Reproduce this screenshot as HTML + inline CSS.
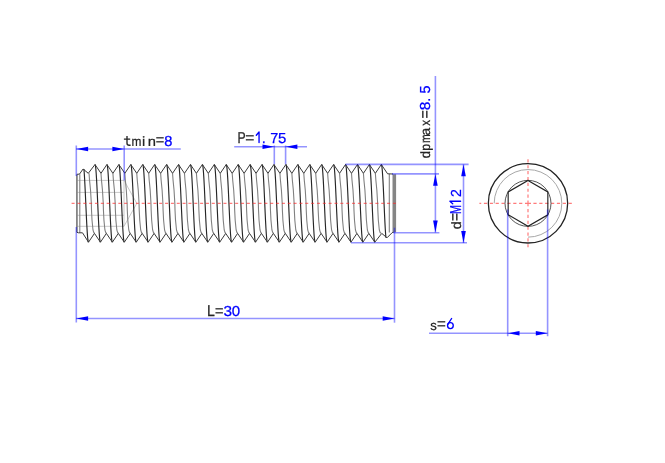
<!DOCTYPE html>
<html><head><meta charset="utf-8"><style>
html,body{margin:0;padding:0;background:#fff;width:665px;height:463px;overflow:hidden}
svg{display:block}
</style></head><body>
<svg width="665" height="463" viewBox="0 0 665 463" style="will-change:transform">
<rect width="665" height="463" fill="#fff"/>
<g fill="none" stroke="#c8c8c8" stroke-width="1">
<path d="M77 180.4 H124"/>
<path d="M77 192.4 H124"/>
<path d="M77 215.3 H124"/>
<path d="M77 226.3 H124"/>
<path d="M124 180.4 V226.3 M124 180.4 L136.8 203.35 L124 226.3"/>
</g>
<g fill="none" stroke="#808080" stroke-width="1.1">
<path d="M89.03 173.3 L89.53 180 L90.52 190 L91.31 203 L91.5 210 L92 220 L92.98 230 L93.77 232.4 L94.47 233.4 M100.97 173.3 L101.46 180 L102.45 190 L103.24 203 L103.43 210 L103.93 220 L104.91 230 L105.7 232.4 L106.4 233.4 M112.9 173.3 L113.39 180 L114.38 190 L115.17 203 L115.36 210 L115.86 220 L116.84 230 L117.63 232.4 L118.33 233.4 M124.83 173.3 L125.32 180 L126.31 190 L127.1 203 L127.29 210 L127.79 220 L128.77 230 L129.56 232.4 L130.25 233.4 M136.75 173.3 L137.25 180 L138.24 190 L139.03 203 L139.22 210 L139.72 220 L140.7 230 L141.49 232.4 L142.19 233.4 M148.69 173.3 L149.18 180 L150.17 190 L150.96 203 L151.15 210 L151.65 220 L152.63 230 L153.42 232.4 L154.12 233.4 M160.62 173.3 L161.11 180 L162.1 190 L162.89 203 L163.08 210 L163.58 220 L164.56 230 L165.35 232.4 L166.04 233.4 M172.54 173.3 L173.04 180 L174.03 190 L174.82 203 L175.01 210 L175.51 220 L176.49 230 L177.28 232.4 L177.97 233.4 M184.47 173.3 L184.97 180 L185.96 190 L186.75 203 L186.94 210 L187.44 220 L188.42 230 L189.21 232.4 L189.91 233.4 M196.41 173.3 L196.9 180 L197.89 190 L198.68 203 L198.87 210 L199.37 220 L200.35 230 L201.14 232.4 L201.84 233.4 M208.34 173.3 L208.83 180 L209.82 190 L210.61 203 L210.8 210 L211.3 220 L212.28 230 L213.07 232.4 L213.77 233.4 M220.27 173.3 L220.76 180 L221.75 190 L222.54 203 L222.73 210 L223.23 220 L224.21 230 L225 232.4 L225.69 233.4 M232.19 173.3 L232.69 180 L233.68 190 L234.47 203 L234.66 210 L235.16 220 L236.14 230 L236.93 232.4 L237.62 233.4 M244.12 173.3 L244.62 180 L245.61 190 L246.4 203 L246.59 210 L247.09 220 L248.07 230 L248.86 232.4 L249.56 233.4 M256.06 173.3 L256.55 180 L257.54 190 L258.33 203 L258.52 210 L259.02 220 L260 230 L260.79 232.4 L261.48 233.4 M267.98 173.3 L268.48 180 L269.47 190 L270.26 203 L270.45 210 L270.95 220 L271.93 230 L272.72 232.4 L273.41 233.4 M279.91 173.3 L280.41 180 L281.4 190 L282.19 203 L282.38 210 L282.88 220 L283.86 230 L284.65 232.4 L285.34 233.4 M291.84 173.3 L292.34 180 L293.33 190 L294.12 203 L294.31 210 L294.81 220 L295.79 230 L296.58 232.4 L297.27 233.4 M303.77 173.3 L304.27 180 L305.26 190 L306.05 203 L306.24 210 L306.74 220 L307.72 230 L308.51 232.4 L309.2 233.4 M315.7 173.3 L316.2 180 L317.19 190 L317.98 203 L318.17 210 L318.67 220 L319.65 230 L320.44 232.4 L321.13 233.4 M327.63 173.3 L328.13 180 L329.12 190 L329.91 203 L330.1 210 L330.6 220 L331.58 230 L332.37 232.4 L333.06 233.4 M339.56 173.3 L340.06 180 L341.05 190 L341.84 203 L342.03 210 L342.53 220 L343.51 230 L344.3 232.4 L344.99 233.4 M351.49 173.3 L351.99 180 L352.98 190 L353.77 203 L353.96 210 L354.46 220 L355.44 230 L356.23 232.4 L356.92 233.4 M363.42 173.3 L363.92 180 L364.91 190 L365.7 203 L365.89 210 L366.39 220 L367.37 230 L368.16 232.4 L368.85 233.4 M375.35 173.3 L375.85 180 L376.84 190 L377.63 203 L377.82 210 L378.32 220 L379.3 230 L380.09 232.4 L380.78 233.4"/>
<path d="M79.8 174.3 V232.8 M389.3 174 V232.6"/>
</g>
<path d="M76.9 174.5 V232.3 M393.4 174.2 V232.2 M395.2 174.2 V232.2" fill="none" stroke="#858585" stroke-width="1.8"/>
<g fill="none" stroke="#262626" stroke-width="1.15">
<path d="M83.91 169 L84.24 173.04 L84.57 178.16 L84.89 184.19 L85.22 190.91 L85.55 198.07 L85.88 205.42 L86.21 212.7 L86.53 219.64 L86.86 226 L87.19 231.54 L87.52 236.08 L87.84 239.44 L88.17 241.5 L88.5 242.2 M95 164.5 L95.39 165.47 L95.78 168.35 L96.16 172.98 L96.55 179.13 L96.94 186.49 L97.33 194.71 L97.72 203.35 L98.1 211.99 L98.49 220.21 L98.88 227.57 L99.27 233.72 L99.65 238.35 L100.04 241.23 L100.43 242.2 M106.93 164.5 L107.32 165.47 L107.71 168.35 L108.09 172.98 L108.48 179.13 L108.87 186.49 L109.26 194.71 L109.65 203.35 L110.03 211.99 L110.42 220.21 L110.81 227.57 L111.2 233.72 L111.58 238.35 L111.97 241.23 L112.36 242.2 M118.86 164.5 L119.25 165.47 L119.64 168.35 L120.02 172.98 L120.41 179.13 L120.8 186.49 L121.19 194.71 L121.58 203.35 L121.96 211.99 L122.35 220.21 L122.74 227.57 L123.13 233.72 L123.51 238.35 L123.9 241.23 L124.29 242.2 M130.79 164.5 L131.18 165.47 L131.57 168.35 L131.95 172.98 L132.34 179.13 L132.73 186.49 L133.12 194.71 L133.5 203.35 L133.89 211.99 L134.28 220.21 L134.67 227.57 L135.06 233.72 L135.44 238.35 L135.83 241.23 L136.22 242.2 M142.72 164.5 L143.11 165.47 L143.5 168.35 L143.88 172.98 L144.27 179.13 L144.66 186.49 L145.05 194.71 L145.44 203.35 L145.82 211.99 L146.21 220.21 L146.6 227.57 L146.99 233.72 L147.37 238.35 L147.76 241.23 L148.15 242.2 M154.65 164.5 L155.04 165.47 L155.43 168.35 L155.81 172.98 L156.2 179.13 L156.59 186.49 L156.98 194.71 L157.37 203.35 L157.75 211.99 L158.14 220.21 L158.53 227.57 L158.92 233.72 L159.3 238.35 L159.69 241.23 L160.08 242.2 M166.58 164.5 L166.97 165.47 L167.36 168.35 L167.74 172.98 L168.13 179.13 L168.52 186.49 L168.91 194.71 L169.29 203.35 L169.68 211.99 L170.07 220.21 L170.46 227.57 L170.85 233.72 L171.23 238.35 L171.62 241.23 L172.01 242.2 M178.51 164.5 L178.9 165.47 L179.29 168.35 L179.67 172.98 L180.06 179.13 L180.45 186.49 L180.84 194.71 L181.22 203.35 L181.61 211.99 L182 220.21 L182.39 227.57 L182.78 233.72 L183.16 238.35 L183.55 241.23 L183.94 242.2 M190.44 164.5 L190.83 165.47 L191.22 168.35 L191.6 172.98 L191.99 179.13 L192.38 186.49 L192.77 194.71 L193.16 203.35 L193.54 211.99 L193.93 220.21 L194.32 227.57 L194.71 233.72 L195.09 238.35 L195.48 241.23 L195.87 242.2 M202.37 164.5 L202.76 165.47 L203.15 168.35 L203.53 172.98 L203.92 179.13 L204.31 186.49 L204.7 194.71 L205.09 203.35 L205.47 211.99 L205.86 220.21 L206.25 227.57 L206.64 233.72 L207.02 238.35 L207.41 241.23 L207.8 242.2 M214.3 164.5 L214.69 165.47 L215.08 168.35 L215.46 172.98 L215.85 179.13 L216.24 186.49 L216.63 194.71 L217.02 203.35 L217.4 211.99 L217.79 220.21 L218.18 227.57 L218.57 233.72 L218.95 238.35 L219.34 241.23 L219.73 242.2 M226.23 164.5 L226.62 165.47 L227.01 168.35 L227.39 172.98 L227.78 179.13 L228.17 186.49 L228.56 194.71 L228.94 203.35 L229.33 211.99 L229.72 220.21 L230.11 227.57 L230.5 233.72 L230.88 238.35 L231.27 241.23 L231.66 242.2 M238.16 164.5 L238.55 165.47 L238.94 168.35 L239.32 172.98 L239.71 179.13 L240.1 186.49 L240.49 194.71 L240.88 203.35 L241.26 211.99 L241.65 220.21 L242.04 227.57 L242.43 233.72 L242.81 238.35 L243.2 241.23 L243.59 242.2 M250.09 164.5 L250.48 165.47 L250.87 168.35 L251.25 172.98 L251.64 179.13 L252.03 186.49 L252.42 194.71 L252.81 203.35 L253.19 211.99 L253.58 220.21 L253.97 227.57 L254.36 233.72 L254.74 238.35 L255.13 241.23 L255.52 242.2 M262.02 164.5 L262.41 165.47 L262.8 168.35 L263.18 172.98 L263.57 179.13 L263.96 186.49 L264.35 194.71 L264.74 203.35 L265.12 211.99 L265.51 220.21 L265.9 227.57 L266.29 233.72 L266.67 238.35 L267.06 241.23 L267.45 242.2 M273.95 164.5 L274.34 165.47 L274.73 168.35 L275.11 172.98 L275.5 179.13 L275.89 186.49 L276.28 194.71 L276.66 203.35 L277.05 211.99 L277.44 220.21 L277.83 227.57 L278.22 233.72 L278.6 238.35 L278.99 241.23 L279.38 242.2 M285.88 164.5 L286.27 165.47 L286.66 168.35 L287.04 172.98 L287.43 179.13 L287.82 186.49 L288.21 194.71 L288.6 203.35 L288.98 211.99 L289.37 220.21 L289.76 227.57 L290.15 233.72 L290.53 238.35 L290.92 241.23 L291.31 242.2 M297.81 164.5 L298.2 165.47 L298.59 168.35 L298.97 172.98 L299.36 179.13 L299.75 186.49 L300.14 194.71 L300.52 203.35 L300.91 211.99 L301.3 220.21 L301.69 227.57 L302.08 233.72 L302.46 238.35 L302.85 241.23 L303.24 242.2 M309.74 164.5 L310.13 165.47 L310.52 168.35 L310.9 172.98 L311.29 179.13 L311.68 186.49 L312.07 194.71 L312.46 203.35 L312.84 211.99 L313.23 220.21 L313.62 227.57 L314.01 233.72 L314.39 238.35 L314.78 241.23 L315.17 242.2 M321.67 164.5 L322.06 165.47 L322.45 168.35 L322.83 172.98 L323.22 179.13 L323.61 186.49 L324 194.71 L324.38 203.35 L324.77 211.99 L325.16 220.21 L325.55 227.57 L325.94 233.72 L326.32 238.35 L326.71 241.23 L327.1 242.2 M333.6 164.5 L333.99 165.47 L334.38 168.35 L334.76 172.98 L335.15 179.13 L335.54 186.49 L335.93 194.71 L336.32 203.35 L336.7 211.99 L337.09 220.21 L337.48 227.57 L337.87 233.72 L338.25 238.35 L338.64 241.23 L339.03 242.2 M345.53 164.5 L345.92 165.47 L346.31 168.35 L346.69 172.98 L347.08 179.13 L347.47 186.49 L347.86 194.71 L348.25 203.35 L348.63 211.99 L349.02 220.21 L349.41 227.57 L349.8 233.72 L350.18 238.35 L350.57 241.23 L350.96 242.2 M357.46 164.5 L357.85 165.47 L358.24 168.35 L358.62 172.98 L359.01 179.13 L359.4 186.49 L359.79 194.71 L360.17 203.35 L360.56 211.99 L360.95 220.21 L361.34 227.57 L361.73 233.72 L362.11 238.35 L362.5 241.23 L362.89 242.2 M369.39 164.5 L369.78 165.47 L370.17 168.35 L370.55 172.98 L370.94 179.13 L371.33 186.49 L371.72 194.71 L372.11 203.35 L372.49 211.99 L372.88 220.21 L373.27 227.57 L373.66 233.72 L374.04 238.35 L374.43 241.23 L374.82 242.2 M381.32 164.5 L381.65 165.2 L381.98 167.27 L382.31 170.65 L382.63 175.2 L382.96 180.76 L383.29 187.14 L383.62 194.11 L383.95 201.4 L384.28 208.77 L384.61 215.94 L384.93 222.65 L385.26 228.68 L385.59 233.79 L385.92 237.8"/>
</g>
<g fill="none" stroke="#3a3a3a" stroke-width="1.0" stroke-linejoin="miter">
<path d="M76.8 174.3 L79.5 174.1 L83.07 169 L88.3 173.3 L95 164.5 L100.97 173.3 L106.93 164.5 L112.9 173.3 L118.86 164.5 L124.83 173.3 L130.79 164.5 L136.75 173.3 L142.72 164.5 L148.69 173.3 L154.65 164.5 L160.62 173.3 L166.58 164.5 L172.54 173.3 L178.51 164.5 L184.47 173.3 L190.44 164.5 L196.41 173.3 L202.37 164.5 L208.34 173.3 L214.3 164.5 L220.27 173.3 L226.23 164.5 L232.19 173.3 L238.16 164.5 L244.12 173.3 L250.09 164.5 L256.06 173.3 L262.02 164.5 L267.98 173.3 L273.95 164.5 L279.91 173.3 L285.88 164.5 L291.84 173.3 L297.81 164.5 L303.77 173.3 L309.74 164.5 L315.7 173.3 L321.67 164.5 L327.63 173.3 L333.6 164.5 L339.56 173.3 L345.53 164.5 L351.49 173.3 L357.46 164.5 L363.42 173.3 L369.39 164.5 L375.35 173.3 L381.32 164.5 L387.6 173.8 L393 174"/>
<path d="M76.8 232.3 L78.5 232.8 L82.5 232.8 L88.5 242.2 L94.47 233.4 L100.43 242.2 L106.4 233.4 L112.36 242.2 L118.33 233.4 L124.29 242.2 L130.25 233.4 L136.22 242.2 L142.19 233.4 L148.15 242.2 L154.12 233.4 L160.08 242.2 L166.04 233.4 L172.01 242.2 L177.97 233.4 L183.94 242.2 L189.91 233.4 L195.87 242.2 L201.84 233.4 L207.8 242.2 L213.77 233.4 L219.73 242.2 L225.69 233.4 L231.66 242.2 L237.62 233.4 L243.59 242.2 L249.56 233.4 L255.52 242.2 L261.48 233.4 L267.45 242.2 L273.41 233.4 L279.38 242.2 L285.34 233.4 L291.31 242.2 L297.27 233.4 L303.24 242.2 L309.2 233.4 L315.17 242.2 L321.13 233.4 L327.1 242.2 L333.06 233.4 L339.03 242.2 L344.99 233.4 L350.96 242.2 L356.92 233.4 L362.89 242.2 L368.85 233.4 L374.82 242.2 L381.78 233.4 L387 237.8 L392.2 232.6 L393.8 232.2"/>
</g>
<g fill="none" stroke="#ff2a2a" stroke-opacity="0.62" stroke-width="1.2">
<path d="M71.6 203.35 H395.9" stroke-dasharray="3 2.842"/>
<path d="M525 203.35 H531 M528 200.6 V206.3"/>
<path d="M533.4 203.35 H572.3" stroke-dasharray="3.2 2.67"/>
<path d="M522.3 203.35 H479.4" stroke-dasharray="3.2 2.67"/>
<path d="M528 197.7 V159.3" stroke-dasharray="3.2 2.67"/>
<path d="M528 209.0 V247.2" stroke-dasharray="3.2 2.67"/>
</g>
<circle cx="528" cy="203.35" r="39.65" fill="none" stroke="#222" stroke-width="1.3"/>
<path d="M494.2 203.35 A33.8 33.8 0 1 1 528 237.15" fill="none" stroke="#a8a8a8" stroke-width="1"/>
<circle cx="528" cy="203.35" r="23" fill="none" stroke="#555" stroke-width="1"/>
<path d="M528 180.45 L547.83 191.9 L547.83 214.8 L528 226.25 L508.17 214.8 L508.17 191.9Z" fill="none" stroke="#222" stroke-width="1.15"/>
<g fill="none" stroke="#0000ff" stroke-opacity="0.42" stroke-width="1.6">
<path d="M76.3 145.5 V176 M76.3 227 V322.5"/>
<path d="M124.2 145.5 V180.6"/>
<path d="M76 149 H180.8"/>
<path d="M234.2 146.8 H307"/>
<path d="M274.3 145.5 V164.3 M285.6 145.5 V164.3"/>
<path d="M76 318.5 H394.5"/>
<path d="M394.5 227.7 V322.7"/>
<path d="M392 173.9 H439 M393.5 232.8 H439.4"/>
<path d="M435.4 76 V232.5"/>
<path d="M345.4 164.4 H468.6 M351 242.8 H467"/>
<path d="M463.5 164.4 V243"/>
<path d="M507.7 209.5 V336.3 M547.6 209.5 V336.3"/>
<path d="M429 333.2 H547.5"/>
</g>
<g fill="#0000ff" stroke="none">
<path d="M76.3 149 L88.1 146.7 L88.1 151.3 Z"/>
<path d="M124.2 149 L112.4 146.7 L112.4 151.3 Z"/>
<path d="M274.3 146.8 L262.5 144.5 L262.5 149.1 Z"/>
<path d="M285.6 146.8 L297.4 144.5 L297.4 149.1 Z"/>
<path d="M76.3 318.5 L88.1 316.2 L88.1 320.8 Z"/>
<path d="M394.5 318.5 L382.7 316.2 L382.7 320.8 Z"/>
<path d="M435.4 174 L433.1 185.8 L437.7 185.8 Z"/>
<path d="M435.4 232.4 L433.1 220.6 L437.7 220.6 Z"/>
<path d="M463.5 164.4 L461.2 176.2 L465.8 176.2 Z"/>
<path d="M463.5 242.9 L461.2 231.1 L465.8 231.1 Z"/>
<path d="M507.7 333.2 L519.5 330.9 L519.5 335.5 Z"/>
<path d="M547.6 333.2 L535.8 330.9 L535.8 335.5 Z"/>
</g>
<g font-family="Liberation Sans, sans-serif" font-size="14.5" text-rendering="geometricPrecision" text-anchor="middle" stroke-width="0.25">
<text transform="translate(136.4 145.8) scale(0.82 0.93)" fill="#252525" stroke="#252525">m</text>
<text transform="translate(143.55 145.8) scale(1 0.93)" fill="#252525" stroke="#252525">i</text>
<text transform="translate(151.8 145.8) scale(1.02 0.93)" fill="#252525" stroke="#252525">n</text>
<text transform="translate(160 145.45) scale(1 1.1)" fill="#252525" stroke="#252525">=</text>
<text transform="translate(168.3 145.8) scale(1.01 1)" fill="#0000ff" stroke="#0000ff">8</text>
<text transform="translate(241.53 143.1) scale(0.84 1.09)" fill="#252525" stroke="#252525">P</text>
<text transform="translate(249.8 142.75) scale(1.07 1.1)" fill="#252525" stroke="#252525">=</text>
<text transform="translate(263.8 143.1) scale(1 1)" fill="#0000ff" stroke="#0000ff">.</text>
<text transform="translate(274.2 143.1) scale(0.99 1)" fill="#0000ff" stroke="#0000ff">7</text>
<text transform="translate(282.2 143.1) scale(1.03 1)" fill="#0000ff" stroke="#0000ff">5</text>
<text transform="translate(210.81 316.1) scale(0.97 1.09)" fill="#252525" stroke="#252525">L</text>
<text transform="translate(219.35 315.75) scale(1 1.1)" fill="#252525" stroke="#252525">=</text>
<text transform="translate(227.8 316.1) scale(1.06 1)" fill="#0000ff" stroke="#0000ff">3</text>
<text transform="translate(236.05 316.1) scale(1.04 1)" fill="#0000ff" stroke="#0000ff">0</text>
<text transform="translate(433.45 329.5) scale(0.9 0.93)" fill="#252525" stroke="#252525">s</text>
<text transform="translate(441.5 329.15) scale(1.04 1.1)" fill="#252525" stroke="#252525">=</text>
<text transform="translate(430 154.55) rotate(-90) scale(0.9 0.93)" fill="#252525" stroke="#252525">d</text>
<text transform="translate(430 147.44) rotate(-90) scale(0.85 0.93)" fill="#252525" stroke="#252525">p</text>
<text transform="translate(430 138.7) rotate(-90) scale(0.72 0.93)" fill="#252525" stroke="#252525">m</text>
<text transform="translate(430 131.68) rotate(-90) scale(0.95 0.93)" fill="#252525" stroke="#252525">a</text>
<text transform="translate(430 122.85) rotate(-90) scale(0.81 0.93)" fill="#252525" stroke="#252525">x</text>
<text transform="translate(429.65 114.45) rotate(-90) scale(0.97 1.1)" fill="#252525" stroke="#252525">=</text>
<text transform="translate(430 105.9) rotate(-90) scale(1.07 1)" fill="#0000ff" stroke="#0000ff">8</text>
<text transform="translate(430 99.85) rotate(-90) scale(1 1)" fill="#0000ff" stroke="#0000ff">.</text>
<text transform="translate(430 89.5) rotate(-90) scale(1 1)" fill="#0000ff" stroke="#0000ff">5</text>
<text transform="translate(460.6 225.28) rotate(-90) scale(0.98 0.93)" fill="#252525" stroke="#252525">d</text>
<text transform="translate(460.25 217.05) rotate(-90) scale(0.94 1.1)" fill="#252525" stroke="#252525">=</text>
<text transform="translate(460.6 209.45) rotate(-90) scale(0.74 1.09)" fill="#0000ff" stroke="#0000ff">M</text>
<text transform="translate(460.6 193.05) rotate(-90) scale(0.97 1)" fill="#0000ff" stroke="#0000ff">2</text>
</g>
<path d="M127 135.9 V143.2 Q127 145.25 129.2 145.25 H130.6 M123.9 139.1 H130.2" fill="none" stroke="#252525" stroke-width="1.35"/>
<path d="M259.05 142.6 V132.0 L256.3 135.2 M460.6 201.25 H449.9 L452.7 203.8 M451.6 318.5 L447.6 324.6" fill="none" stroke="#0000ff" stroke-width="1.35" stroke-linejoin="round" stroke-linecap="round"/>
<ellipse cx="450.4" cy="325.6" rx="2.85" ry="3.05" fill="none" stroke="#0000ff" stroke-width="1.35"/>
</svg>
</body></html>
